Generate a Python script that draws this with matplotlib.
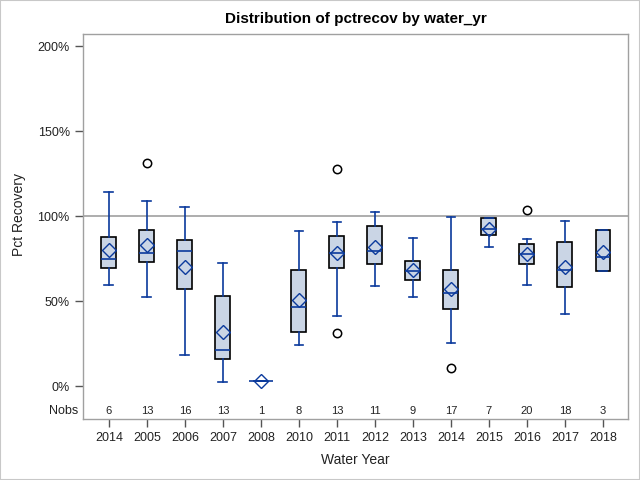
import matplotlib
matplotlib.use("Agg")
import matplotlib.pyplot as plt
from matplotlib.patches import Rectangle
from matplotlib.transforms import blended_transform_factory

plt.rcParams['font.family'] = ['Liberation Sans', 'DejaVu Sans']

years = ["2014", "2005", "2006", "2007", "2008", "2010", "2011", "2012", "2013", "2014", "2015", "2016", "2017", "2018"]
nobs = [6, 13, 16, 13, 1, 8, 13, 11, 9, 17, 7, 20, 18, 3]
whislo = [59.2, 52.4, 18.0, 2.2, 2.9, 23.9, 41.2, 58.6, 52.4, 25.1, 81.6, 59.2, 42.2, 67.5]
q1 = [69.2, 72.7, 56.9, 15.7, 2.9, 31.6, 69.2, 71.6, 62.2, 45.1, 88.6, 71.6, 58.1, 67.5]
med = [74.7, 78.0, 79.4, 21.0, 2.9, 46.5, 78.2, 79.4, 67.6, 54.5, 92.4, 77.5, 68.2, 75.7]
q3 = [87.5, 91.6, 85.7, 53.1, 2.9, 68.0, 88.0, 93.9, 73.3, 68.0, 98.6, 83.7, 84.5, 91.6]
whishi = [114.3, 109.0, 105.5, 72.5, 2.9, 91.0, 96.3, 102.5, 86.9, 99.6, 98.6, 86.7, 96.9, 91.6]
means = [80.0, 82.7, 69.8, 31.6, 2.9, 50.8, 78.0, 81.8, 68.2, 57.3, 92.4, 77.5, 69.8, 78.8]
outliers = [[], [131.4], [], [], [], [], [127.5, 31.0], [], [], [10.4], [], [103.3], [], []]

blue = '#0B3A9C'
fill = '#CAD5E5'
grey = '#A0A0A0'

fig = plt.figure(figsize=(6.4, 4.8), dpi=100)
ax = fig.add_axes([83/640, 1-419/480, 545/640, 385/480])

stats = []
for i in range(len(years)):
    stats.append(dict(whislo=whislo[i], q1=q1[i], med=med[i], q3=q3[i], whishi=whishi[i],
                      mean=means[i], fliers=outliers[i], label=years[i]))

pos = list(range(len(years)))
bp = ax.bxp(stats, positions=pos, widths=0.39, patch_artist=True, showmeans=True,
            boxprops=dict(facecolor=fill, edgecolor='black', linewidth=1.2),
            medianprops=dict(color=blue, linewidth=1.2),
            whiskerprops=dict(color=blue, linewidth=1.2),
            capprops=dict(color=blue, linewidth=1.2),
            capwidths=0.23,
            meanprops=dict(marker='D', markerfacecolor='none', markeredgecolor=blue,
                           markersize=7, markeredgewidth=1.0),
            flierprops=dict(marker='o', markerfacecolor='none', markeredgecolor='black',
                            markersize=6, markeredgewidth=1.1),
            zorder=3)
# single-observation box drawn as a blue line
for i, n in enumerate(nobs):
    if n == 1:
        bp['boxes'][i].set_edgecolor(blue)
        bp['medians'][i].set_xdata([pos[i] - 0.32, pos[i] + 0.32])

ax.axhline(100, color=grey, linewidth=1.2, zorder=1)

ax.set_xlim(-0.68, 13.66)
ax.set_ylim(-19.4, 207.1)
ax.set_yticks([0, 50, 100, 150, 200])
ax.set_yticklabels(['0%', '50%', '100%', '150%', '200%'])
ax.set_xticks(pos)
ax.set_xticklabels(years)
ax.tick_params(axis='both', colors='#555555', labelcolor='#222222', labelsize=9, length=6, width=1)
for s in ax.spines.values():
    s.set_color(grey)
    s.set_linewidth(1)

tr = blended_transform_factory(ax.transData, ax.transAxes)
for i, n in enumerate(nobs):
    ax.text(pos[i], 0.021, str(n), transform=tr, ha='center', va='center', fontsize=8, color='#222222')
ax.text(-0.008, 0.021, 'Nobs', transform=ax.transAxes, ha='right', va='center', fontsize=9, color='#222222')

ax.set_xlabel('Water Year', fontsize=10, labelpad=6, color='#222222')
ax.set_ylabel('Pct Recovery', fontsize=10, color='#222222')
ax.yaxis.set_label_coords(-0.105, 0.53)
ax.set_title('Distribution of pctrecov by water_yr', fontsize=11, fontweight='bold', pad=8)

fig.patches.append(Rectangle((0, 0), 1, 1, transform=fig.transFigure, fill=False,
                             edgecolor='#C8C8C8', linewidth=1.5))

fig.savefig('out.png', dpi=100)
